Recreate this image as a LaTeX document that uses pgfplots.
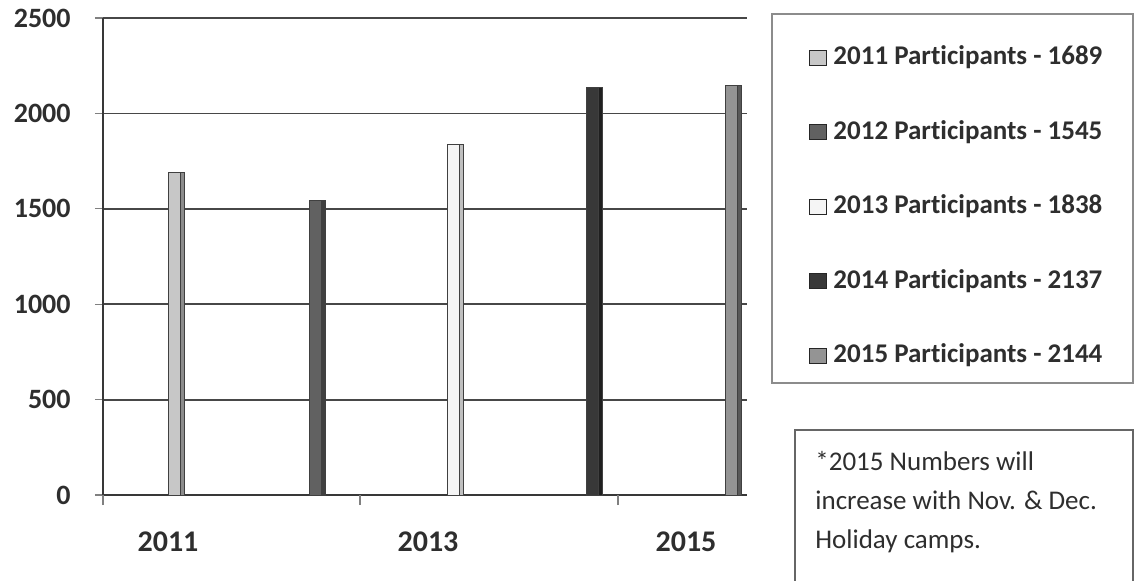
\documentclass[border=0pt]{standalone}
\usepackage{fontspec}
\setmainfont{Carlito}[Ligatures=NoCommon]
\usepackage{pgfplots}
\usepackage{pgfplotstable}
\pgfplotsset{compat=1.18}

% yearly participant counts (bar positions on a 0..644 horizontal scale)
\pgfplotstableread{
x    y
72   1689
}\yearA
\pgfplotstableread{
x    y
212  1545
}\yearB
\pgfplotstableread{
x    y
350  1838
}\yearC
\pgfplotstableread{
x    y
489  2137
}\yearD
\pgfplotstableread{
x    y
628  2144
}\yearE

\definecolor{txt}{gray}{0.18}

\pgfplotsset{
  swatch/.style={legend image code/.code={
      \draw[##1, draw=black!85, line width=0.5pt] (0pt,-3.75pt) rectangle (8.5pt,3.75pt);}},
  front/.style={ybar, bar width=12, bar shift=0, draw=black!75, line width=0.5pt},
  side/.style={ybar, bar width=4, bar shift=0, draw=black!75, line width=0.5pt, forget plot},
}

\begin{document}
\begin{tikzpicture}
\begin{axis}[
  at={(51.5pt,42.5pt)}, anchor=south west,
  scale only axis, width=322pt, height=238.5pt,
  xmin=0, xmax=644, ymin=0, ymax=2500,
  axis x line=bottom, axis y line=left,
  axis line style={-, black!78, line width=1pt},
  ytick={0,500,...,2500},
  ymajorgrids, grid style={black!72, line width=0.9pt},
  tick align=outside, major tick length=4pt,
  ytick style={draw=black!50, line width=0.6pt},
  xtick={65,325,583}, xticklabels={2011,2013,2015},
  xtick style={draw=none},
  extra x ticks={0,257,515}, extra x tick labels={,,},
  extra x tick style={xtick style={draw=black!50, line width=0.6pt}, major tick length=5pt},
  /pgf/number format/assume math mode=true,
  /pgf/number format/1000 sep={},
  yticklabel style={font=\bfseries\fontsize{14}{16}\selectfont, text=txt, inner sep=0pt, xshift=-12pt},
  xticklabel style={font=\bfseries\fontsize{15}{17}\selectfont, text=txt, inner sep=0pt, anchor=base, yshift=-24pt},
  legend cell align=left,
  legend style={draw=none, fill=none, at={(1.087,0.9528)}, anchor=north west,
    font=\bfseries\fontsize{13.5}{16}\selectfont, text=txt,
    row sep=24.25pt, column sep=3pt,
    nodes={inner sep=0pt, text height=10pt, text depth=3pt}},
  clip=false,
]
% front faces
\addplot[front, fill=black!22, swatch] table {\yearA};
\addlegendentry{2011 Participants - 1689}
\addplot[front, fill=black!62, swatch] table {\yearB};
\addlegendentry{2012 Participants - 1545}
\addplot[front, fill=black!4, swatch] table {\yearC};
\addlegendentry{2013 Participants - 1838}
\addplot[front, fill=black!78, swatch] table {\yearD};
\addlegendentry{2014 Participants - 2137}
\addplot[front, fill=black!42, swatch] table {\yearE};
\addlegendentry{2015 Participants - 2144}
% shaded right-hand sides of the bars
\addplot[side, fill=black!45] table[x expr=\thisrow{x}+8] {\yearA};
\addplot[side, fill=black!75] table[x expr=\thisrow{x}+8] {\yearB};
\addplot[side, fill=black!25] table[x expr=\thisrow{x}+8] {\yearC};
\addplot[side, fill=black!88] table[x expr=\thisrow{x}+8] {\yearD};
\addplot[side, fill=black!65] table[x expr=\thisrow{x}+8] {\yearE};
\end{axis}

% legend frame
\draw[black!45, line width=0.6pt] (386pt,98.5pt) rectangle (566.5pt,283pt);

% note box, running off the bottom edge
\draw[black!60, line width=0.8pt] (397.5pt,-2pt) -- (397.5pt,75pt) -- (566.5pt,75pt) -- (566.5pt,-2pt);
\begin{scope}[every node/.style={anchor=base west, inner sep=0pt, text=txt, font=\fontsize{13.5}{16}\selectfont}]
\node at (407.5pt,54.75pt) {*2015 Numbers will};
\node at (407.5pt,35.25pt) {increase with Nov. \& Dec.};
\node at (407.5pt,15.75pt) {Holiday camps.};
\end{scope}

\pgfresetboundingbox
\useasboundingbox (0,0) rectangle (568pt,290pt);
\end{tikzpicture}
\end{document}
